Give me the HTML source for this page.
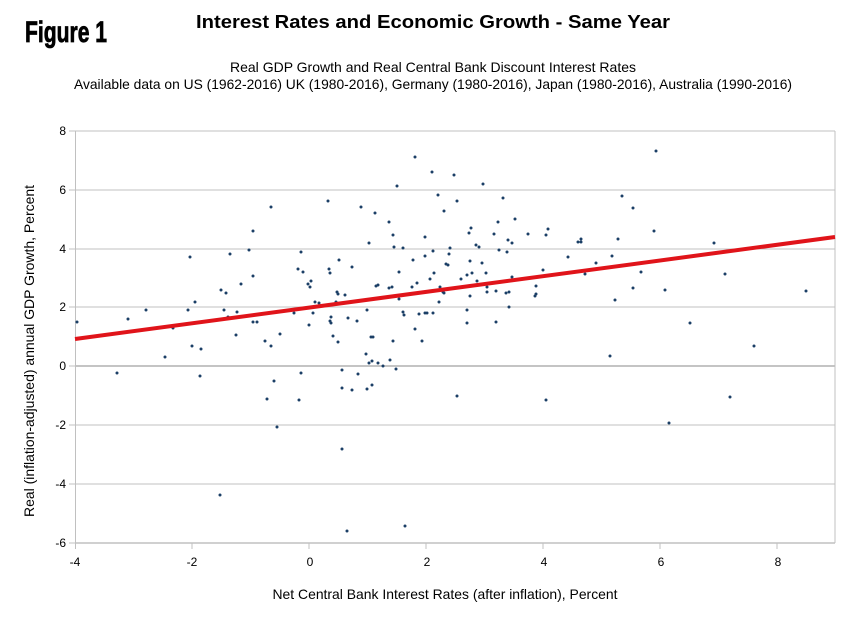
<!DOCTYPE html>
<html><head><meta charset="utf-8"><style>html,body{margin:0;padding:0;background:#fff}svg{display:block}</style></head><body>
<svg width="866" height="626" xmlns="http://www.w3.org/2000/svg" font-family="Liberation Sans, sans-serif">
<rect width="866" height="626" fill="#fff"/>
<text x="25" y="42" font-size="30" font-weight="bold" stroke="#000" stroke-width="0.8" textLength="82" lengthAdjust="spacingAndGlyphs">Figure 1</text>
<text x="196" y="28" font-size="18" font-weight="bold" textLength="474" lengthAdjust="spacingAndGlyphs">Interest Rates and Economic Growth - Same Year</text>
<text x="433" y="72" font-size="14" text-anchor="middle" textLength="406" lengthAdjust="spacingAndGlyphs">Real GDP Growth and Real Central Bank Discount Interest Rates</text>
<text x="433" y="89" font-size="14" text-anchor="middle" textLength="718" lengthAdjust="spacingAndGlyphs">Available data on US (1962-2016) UK (1980-2016), Germany (1980-2016), Japan (1980-2016), Australia (1990-2016)</text>
<g stroke="#c0c0c0" stroke-width="1">
<line x1="75" y1="131" x2="835" y2="131"/><line x1="75" y1="190" x2="835" y2="190"/><line x1="75" y1="249" x2="835" y2="249"/><line x1="75" y1="307" x2="835" y2="307"/><line x1="75" y1="366" x2="835" y2="366" stroke="#b0b0b0" stroke-width="1.5"/><line x1="75" y1="425" x2="835" y2="425"/><line x1="75" y1="484" x2="835" y2="484"/><line x1="75" y1="543" x2="835" y2="543" stroke-width="1.5"/>
<line x1="75.5" y1="131" x2="75.5" y2="543"/><line x1="835" y1="131" x2="835" y2="543"/>
<line x1="69" y1="131" x2="75" y2="131"/><line x1="69" y1="190" x2="75" y2="190"/><line x1="69" y1="249" x2="75" y2="249"/><line x1="69" y1="307" x2="75" y2="307"/><line x1="69" y1="366" x2="75" y2="366"/><line x1="69" y1="425" x2="75" y2="425"/><line x1="69" y1="484" x2="75" y2="484"/><line x1="69" y1="543" x2="75" y2="543"/>
<line x1="75.5" y1="543" x2="75.5" y2="549"/><line x1="192" y1="543" x2="192" y2="549"/><line x1="309" y1="543" x2="309" y2="549"/><line x1="426" y1="543" x2="426" y2="549"/><line x1="543" y1="543" x2="543" y2="549"/><line x1="660" y1="543" x2="660" y2="549"/><line x1="777" y1="543" x2="777" y2="549"/>
</g>
<g font-size="12" text-anchor="end">
<text x="66" y="135">8</text><text x="66" y="194">6</text><text x="66" y="253">4</text><text x="66" y="311">2</text><text x="66" y="370">0</text><text x="66" y="429">-2</text><text x="66" y="488">-4</text><text x="66" y="547">-6</text>
</g>
<g font-size="12" text-anchor="middle">
<text x="75" y="566">-4</text><text x="192" y="566">-2</text><text x="310" y="566">0</text><text x="427" y="566">2</text><text x="544" y="566">4</text><text x="661" y="566">6</text><text x="778" y="566">8</text>
</g>
<text x="445" y="599" font-size="14" text-anchor="middle" textLength="345" lengthAdjust="spacingAndGlyphs">Net Central Bank Interest Rates (after inflation), Percent</text>
<text transform="translate(34,351) rotate(-90)" font-size="14" text-anchor="middle" textLength="332" lengthAdjust="spacingAndGlyphs">Real (inflation-adjusted) annual GDP Growth, Percent</text>
<g fill="#1b3f66">
<circle cx="77" cy="322" r="1.5"/><circle cx="117" cy="373" r="1.5"/><circle cx="128" cy="319" r="1.5"/><circle cx="146" cy="310" r="1.5"/><circle cx="165" cy="357" r="1.5"/><circle cx="173" cy="328" r="1.5"/><circle cx="190" cy="257" r="1.5"/><circle cx="188" cy="310" r="1.5"/><circle cx="195" cy="302" r="1.5"/><circle cx="192" cy="346" r="1.5"/><circle cx="201" cy="349" r="1.5"/><circle cx="200" cy="376" r="1.5"/><circle cx="221" cy="290" r="1.5"/><circle cx="226" cy="293" r="1.5"/><circle cx="224" cy="310" r="1.5"/><circle cx="228" cy="317" r="1.5"/><circle cx="230" cy="254" r="1.5"/><circle cx="237" cy="312" r="1.5"/><circle cx="236" cy="335" r="1.5"/><circle cx="241" cy="284" r="1.5"/><circle cx="249" cy="250" r="1.5"/><circle cx="253" cy="231" r="1.5"/><circle cx="253" cy="276" r="1.5"/><circle cx="253" cy="322" r="1.5"/><circle cx="257" cy="322" r="1.5"/><circle cx="265" cy="341" r="1.5"/><circle cx="271" cy="346" r="1.5"/><circle cx="271" cy="207" r="1.5"/><circle cx="280" cy="334" r="1.5"/><circle cx="274" cy="381" r="1.5"/><circle cx="267" cy="399" r="1.5"/><circle cx="277" cy="427" r="1.5"/><circle cx="220" cy="495" r="1.5"/><circle cx="294" cy="313" r="1.5"/><circle cx="301" cy="252" r="1.5"/><circle cx="298" cy="269" r="1.5"/><circle cx="303" cy="272" r="1.5"/><circle cx="301" cy="373" r="1.5"/><circle cx="299" cy="400" r="1.5"/><circle cx="308" cy="284" r="1.5"/><circle cx="311" cy="281" r="1.5"/><circle cx="310" cy="287" r="1.5"/><circle cx="309" cy="325" r="1.5"/><circle cx="313" cy="313" r="1.5"/><circle cx="315" cy="302" r="1.5"/>
<circle cx="415" cy="157" r="1.5"/><circle cx="432" cy="172" r="1.5"/><circle cx="454" cy="175" r="1.5"/><circle cx="483" cy="184" r="1.5"/><circle cx="397" cy="186" r="1.5"/><circle cx="328" cy="201" r="1.5"/><circle cx="438" cy="195" r="1.5"/><circle cx="457" cy="201" r="1.5"/><circle cx="503" cy="198" r="1.5"/><circle cx="361" cy="207" r="1.5"/><circle cx="375" cy="213" r="1.5"/><circle cx="444" cy="211" r="1.5"/><circle cx="389" cy="222" r="1.5"/><circle cx="515" cy="219" r="1.5"/><circle cx="498" cy="222" r="1.5"/><circle cx="471" cy="228" r="1.5"/><circle cx="469" cy="233" r="1.5"/><circle cx="393" cy="235" r="1.5"/><circle cx="425" cy="237" r="1.5"/><circle cx="494" cy="234" r="1.5"/><circle cx="528" cy="234" r="1.5"/><circle cx="546" cy="235" r="1.5"/><circle cx="548" cy="229" r="1.5"/><circle cx="508" cy="240" r="1.5"/><circle cx="512" cy="243" r="1.5"/><circle cx="369" cy="243" r="1.5"/><circle cx="394" cy="247" r="1.5"/><circle cx="403" cy="248" r="1.5"/><circle cx="450" cy="248" r="1.5"/><circle cx="476" cy="245" r="1.5"/><circle cx="479" cy="247" r="1.5"/><circle cx="433" cy="251" r="1.5"/><circle cx="499" cy="250" r="1.5"/><circle cx="507" cy="252" r="1.5"/><circle cx="449" cy="254" r="1.5"/><circle cx="425" cy="256" r="1.5"/><circle cx="413" cy="260" r="1.5"/><circle cx="339" cy="260" r="1.5"/><circle cx="470" cy="261" r="1.5"/><circle cx="352" cy="267" r="1.5"/><circle cx="446" cy="264" r="1.5"/><circle cx="448" cy="265" r="1.5"/><circle cx="482" cy="263" r="1.5"/><circle cx="329" cy="269" r="1.5"/><circle cx="330" cy="273" r="1.5"/><circle cx="399" cy="272" r="1.5"/><circle cx="434" cy="273" r="1.5"/><circle cx="486" cy="273" r="1.5"/><circle cx="472" cy="273" r="1.5"/><circle cx="467" cy="275" r="1.5"/><circle cx="512" cy="277" r="1.5"/><circle cx="430" cy="279" r="1.5"/><circle cx="461" cy="279" r="1.5"/><circle cx="417" cy="283" r="1.5"/><circle cx="477" cy="281" r="1.5"/><circle cx="378" cy="285" r="1.5"/><circle cx="376" cy="286" r="1.5"/><circle cx="392" cy="287" r="1.5"/><circle cx="389" cy="288" r="1.5"/><circle cx="412" cy="287" r="1.5"/><circle cx="440" cy="287" r="1.5"/><circle cx="487" cy="287" r="1.5"/><circle cx="536" cy="286" r="1.5"/><circle cx="337" cy="292" r="1.5"/><circle cx="338" cy="294" r="1.5"/><circle cx="345" cy="295" r="1.5"/><circle cx="443" cy="292" r="1.5"/><circle cx="444" cy="293" r="1.5"/><circle cx="470" cy="296" r="1.5"/><circle cx="487" cy="292" r="1.5"/><circle cx="496" cy="291" r="1.5"/><circle cx="506" cy="293" r="1.5"/><circle cx="509" cy="292" r="1.5"/><circle cx="536" cy="294" r="1.5"/><circle cx="535" cy="296" r="1.5"/><circle cx="399" cy="299" r="1.5"/><circle cx="319" cy="303" r="1.5"/><circle cx="336" cy="302" r="1.5"/><circle cx="439" cy="302" r="1.5"/><circle cx="509" cy="307" r="1.5"/><circle cx="367" cy="310" r="1.5"/><circle cx="403" cy="312" r="1.5"/><circle cx="404" cy="315" r="1.5"/><circle cx="419" cy="314" r="1.5"/><circle cx="425" cy="313" r="1.5"/><circle cx="427" cy="313" r="1.5"/><circle cx="433" cy="313" r="1.5"/><circle cx="467" cy="310" r="1.5"/><circle cx="331" cy="317" r="1.5"/><circle cx="330" cy="321" r="1.5"/><circle cx="331" cy="323" r="1.5"/><circle cx="348" cy="318" r="1.5"/><circle cx="357" cy="321" r="1.5"/><circle cx="467" cy="323" r="1.5"/><circle cx="496" cy="322" r="1.5"/><circle cx="415" cy="329" r="1.5"/><circle cx="333" cy="336" r="1.5"/><circle cx="338" cy="342" r="1.5"/><circle cx="371" cy="337" r="1.5"/><circle cx="373" cy="337" r="1.5"/><circle cx="393" cy="341" r="1.5"/><circle cx="422" cy="341" r="1.5"/><circle cx="366" cy="354" r="1.5"/><circle cx="369" cy="363" r="1.5"/><circle cx="372" cy="361" r="1.5"/><circle cx="378" cy="363" r="1.5"/><circle cx="383" cy="366" r="1.5"/><circle cx="390" cy="360" r="1.5"/><circle cx="342" cy="370" r="1.5"/><circle cx="358" cy="374" r="1.5"/><circle cx="396" cy="369" r="1.5"/><circle cx="342" cy="388" r="1.5"/><circle cx="352" cy="390" r="1.5"/><circle cx="367" cy="389" r="1.5"/><circle cx="372" cy="385" r="1.5"/><circle cx="457" cy="396" r="1.5"/><circle cx="546" cy="400" r="1.5"/><circle cx="342" cy="449" r="1.5"/><circle cx="347" cy="531" r="1.5"/><circle cx="405" cy="526" r="1.5"/>
<circle cx="656" cy="151" r="1.5"/><circle cx="622" cy="196" r="1.5"/><circle cx="633" cy="208" r="1.5"/><circle cx="654" cy="231" r="1.5"/><circle cx="581" cy="239" r="1.5"/><circle cx="578" cy="242" r="1.5"/><circle cx="581" cy="242" r="1.5"/><circle cx="618" cy="239" r="1.5"/><circle cx="714" cy="243" r="1.5"/><circle cx="568" cy="257" r="1.5"/><circle cx="612" cy="256" r="1.5"/><circle cx="596" cy="263" r="1.5"/><circle cx="543" cy="270" r="1.5"/><circle cx="585" cy="274" r="1.5"/><circle cx="641" cy="272" r="1.5"/><circle cx="725" cy="274" r="1.5"/><circle cx="633" cy="288" r="1.5"/><circle cx="665" cy="290" r="1.5"/><circle cx="806" cy="291" r="1.5"/><circle cx="615" cy="300" r="1.5"/><circle cx="690" cy="323" r="1.5"/><circle cx="754" cy="346" r="1.5"/><circle cx="610" cy="356" r="1.5"/><circle cx="730" cy="397" r="1.5"/><circle cx="669" cy="423" r="1.5"/>
</g>
<line x1="75" y1="339" x2="835" y2="237" stroke="#e0141a" stroke-width="4"/>
</svg>
</body></html>
